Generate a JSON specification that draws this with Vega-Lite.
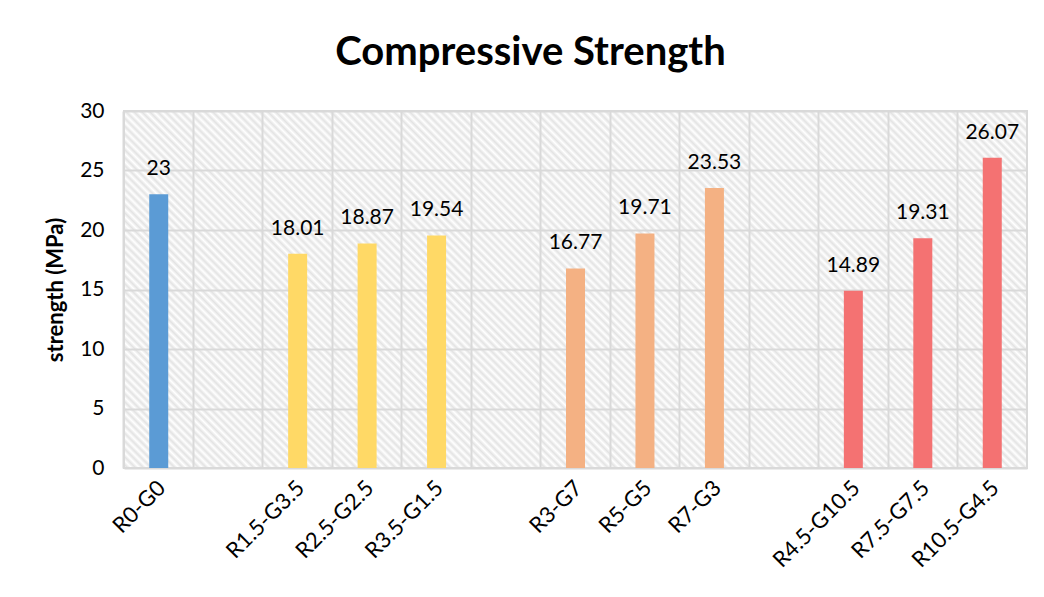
{
  "$schema": "https://vega.github.io/schema/vega-lite/v6.json",
  "autosize": "none",
  "width": 903,
  "height": 357,
  "padding": {"left": 124, "top": 111, "right": 17, "bottom": 129},
  "background": "#ffffff",
  "title": {
    "text": "Compressive Strength",
    "font": "Lato",
    "fontSize": 40,
    "fontWeight": "bold",
    "color": "#000000",
    "anchor": "middle",
    "dx": -45,
    "offset": 27
  },
  "data": {
    "values": [
      {"mix": "R0-G0", "strength": 23, "series": "control"},
      {"mix": "R1.5-G3.5", "strength": 18.01, "series": "total 5"},
      {"mix": "R2.5-G2.5", "strength": 18.87, "series": "total 5"},
      {"mix": "R3.5-G1.5", "strength": 19.54, "series": "total 5"},
      {"mix": "R3-G7", "strength": 16.77, "series": "total 10"},
      {"mix": "R5-G5", "strength": 19.71, "series": "total 10"},
      {"mix": "R7-G3", "strength": 23.53, "series": "total 10"},
      {"mix": "R4.5-G10.5", "strength": 14.89, "series": "total 15"},
      {"mix": "R7.5-G7.5", "strength": 19.31, "series": "total 15"},
      {"mix": "R10.5-G4.5", "strength": 26.07, "series": "total 15"}
    ]
  },
  "encoding": {
    "x": {
      "field": "mix",
      "type": "nominal",
      "sort": null,
      "scale": {
        "domain": ["R0-G0", " ", "R1.5-G3.5", "R2.5-G2.5", "R3.5-G1.5", "  ", "R3-G7", "R5-G5", "R7-G3", "   ", "R4.5-G10.5", "R7.5-G7.5", "R10.5-G4.5"],
        "paddingInner": 0,
        "paddingOuter": 0
      },
      "axis": {
        "title": null,
        "labelAngle": -45,
        "labelFont": "Lato",
        "labelFontSize": 22,
        "labelColor": "#000000",
        "labelPadding": 9,
        "labelOffset": -4,
        "ticks": false,
        "domain": false,
        "grid": true,
        "bandPosition": 0,
        "gridColor": "#d9d9d9",
        "gridWidth": 2
      }
    },
    "y": {
      "field": "strength",
      "type": "quantitative",
      "scale": {"domain": [0, 30], "nice": false},
      "axis": {
        "title": "strength (MPa)",
        "titleFont": "Lato",
        "titleFontSize": 22,
        "titleFontWeight": "bold",
        "titleColor": "#000000",
        "titlePadding": 12,
        "values": [0, 5, 10, 15, 20, 25, 30],
        "labelFont": "Lato",
        "labelFontSize": 21,
        "labelColor": "#000000",
        "labelPadding": 20,
        "ticks": false,
        "domain": false,
        "gridColor": "#d9d9d9",
        "gridWidth": 2
      }
    }
  },
  "layer": [
    {
      "mark": {"type": "bar", "size": 19},
      "encoding": {
        "color": {
          "field": "series",
          "type": "nominal",
          "scale": {
            "domain": ["control", "total 5", "total 10", "total 15"],
            "range": ["#5b9bd5", "#ffd966", "#f4b183", "#f47272"]
          },
          "legend": null
        }
      }
    },
    {
      "mark": {"type": "text", "font": "Lato", "fontSize": 21, "color": "#000000", "baseline": "middle", "dy": -25},
      "encoding": {
        "text": {"field": "strength", "type": "quantitative"}
      }
    }
  ],
  "config": {
    "view": {
      "stroke": "#d9d9d9",
      "strokeWidth": 2,
      "fill": {
        "gradient": "linear",
        "x1": 0, "y1": 1, "x2": 1.20674, "y2": 0.52292,
        "stops": [
          {"offset": 0, "color": "#fff"}, {"offset": 0.003125, "color": "#e3e3e3"}, {"offset": 0.00625, "color": "#fff"}, {"offset": 0.009375, "color": "#e3e3e3"}, {"offset": 0.0125, "color": "#fff"}, {"offset": 0.015625, "color": "#e3e3e3"}, {"offset": 0.01875, "color": "#fff"}, {"offset": 0.021875, "color": "#e3e3e3"},
          {"offset": 0.025, "color": "#fff"}, {"offset": 0.028125, "color": "#e3e3e3"}, {"offset": 0.03125, "color": "#fff"}, {"offset": 0.034375, "color": "#e3e3e3"}, {"offset": 0.0375, "color": "#fff"}, {"offset": 0.040625, "color": "#e3e3e3"}, {"offset": 0.04375, "color": "#fff"}, {"offset": 0.046875, "color": "#e3e3e3"},
          {"offset": 0.05, "color": "#fff"}, {"offset": 0.053125, "color": "#e3e3e3"}, {"offset": 0.05625, "color": "#fff"}, {"offset": 0.059375, "color": "#e3e3e3"}, {"offset": 0.0625, "color": "#fff"}, {"offset": 0.065625, "color": "#e3e3e3"}, {"offset": 0.06875, "color": "#fff"}, {"offset": 0.071875, "color": "#e3e3e3"},
          {"offset": 0.075, "color": "#fff"}, {"offset": 0.078125, "color": "#e3e3e3"}, {"offset": 0.08125, "color": "#fff"}, {"offset": 0.084375, "color": "#e3e3e3"}, {"offset": 0.0875, "color": "#fff"}, {"offset": 0.090625, "color": "#e3e3e3"}, {"offset": 0.09375, "color": "#fff"}, {"offset": 0.096875, "color": "#e3e3e3"},
          {"offset": 0.1, "color": "#fff"}, {"offset": 0.103125, "color": "#e3e3e3"}, {"offset": 0.10625, "color": "#fff"}, {"offset": 0.109375, "color": "#e3e3e3"}, {"offset": 0.1125, "color": "#fff"}, {"offset": 0.115625, "color": "#e3e3e3"}, {"offset": 0.11875, "color": "#fff"}, {"offset": 0.121875, "color": "#e3e3e3"},
          {"offset": 0.125, "color": "#fff"}, {"offset": 0.128125, "color": "#e3e3e3"}, {"offset": 0.13125, "color": "#fff"}, {"offset": 0.134375, "color": "#e3e3e3"}, {"offset": 0.1375, "color": "#fff"}, {"offset": 0.140625, "color": "#e3e3e3"}, {"offset": 0.14375, "color": "#fff"}, {"offset": 0.146875, "color": "#e3e3e3"},
          {"offset": 0.15, "color": "#fff"}, {"offset": 0.153125, "color": "#e3e3e3"}, {"offset": 0.15625, "color": "#fff"}, {"offset": 0.159375, "color": "#e3e3e3"}, {"offset": 0.1625, "color": "#fff"}, {"offset": 0.165625, "color": "#e3e3e3"}, {"offset": 0.16875, "color": "#fff"}, {"offset": 0.171875, "color": "#e3e3e3"},
          {"offset": 0.175, "color": "#fff"}, {"offset": 0.178125, "color": "#e3e3e3"}, {"offset": 0.18125, "color": "#fff"}, {"offset": 0.184375, "color": "#e3e3e3"}, {"offset": 0.1875, "color": "#fff"}, {"offset": 0.190625, "color": "#e3e3e3"}, {"offset": 0.19375, "color": "#fff"}, {"offset": 0.196875, "color": "#e3e3e3"},
          {"offset": 0.2, "color": "#fff"}, {"offset": 0.203125, "color": "#e3e3e3"}, {"offset": 0.20625, "color": "#fff"}, {"offset": 0.209375, "color": "#e3e3e3"}, {"offset": 0.2125, "color": "#fff"}, {"offset": 0.215625, "color": "#e3e3e3"}, {"offset": 0.21875, "color": "#fff"}, {"offset": 0.221875, "color": "#e3e3e3"},
          {"offset": 0.225, "color": "#fff"}, {"offset": 0.228125, "color": "#e3e3e3"}, {"offset": 0.23125, "color": "#fff"}, {"offset": 0.234375, "color": "#e3e3e3"}, {"offset": 0.2375, "color": "#fff"}, {"offset": 0.240625, "color": "#e3e3e3"}, {"offset": 0.24375, "color": "#fff"}, {"offset": 0.246875, "color": "#e3e3e3"},
          {"offset": 0.25, "color": "#fff"}, {"offset": 0.253125, "color": "#e3e3e3"}, {"offset": 0.25625, "color": "#fff"}, {"offset": 0.259375, "color": "#e3e3e3"}, {"offset": 0.2625, "color": "#fff"}, {"offset": 0.265625, "color": "#e3e3e3"}, {"offset": 0.26875, "color": "#fff"}, {"offset": 0.271875, "color": "#e3e3e3"},
          {"offset": 0.275, "color": "#fff"}, {"offset": 0.278125, "color": "#e3e3e3"}, {"offset": 0.28125, "color": "#fff"}, {"offset": 0.284375, "color": "#e3e3e3"}, {"offset": 0.2875, "color": "#fff"}, {"offset": 0.290625, "color": "#e3e3e3"}, {"offset": 0.29375, "color": "#fff"}, {"offset": 0.296875, "color": "#e3e3e3"},
          {"offset": 0.3, "color": "#fff"}, {"offset": 0.303125, "color": "#e3e3e3"}, {"offset": 0.30625, "color": "#fff"}, {"offset": 0.309375, "color": "#e3e3e3"}, {"offset": 0.3125, "color": "#fff"}, {"offset": 0.315625, "color": "#e3e3e3"}, {"offset": 0.31875, "color": "#fff"}, {"offset": 0.321875, "color": "#e3e3e3"},
          {"offset": 0.325, "color": "#fff"}, {"offset": 0.328125, "color": "#e3e3e3"}, {"offset": 0.33125, "color": "#fff"}, {"offset": 0.334375, "color": "#e3e3e3"}, {"offset": 0.3375, "color": "#fff"}, {"offset": 0.340625, "color": "#e3e3e3"}, {"offset": 0.34375, "color": "#fff"}, {"offset": 0.346875, "color": "#e3e3e3"},
          {"offset": 0.35, "color": "#fff"}, {"offset": 0.353125, "color": "#e3e3e3"}, {"offset": 0.35625, "color": "#fff"}, {"offset": 0.359375, "color": "#e3e3e3"}, {"offset": 0.3625, "color": "#fff"}, {"offset": 0.365625, "color": "#e3e3e3"}, {"offset": 0.36875, "color": "#fff"}, {"offset": 0.371875, "color": "#e3e3e3"},
          {"offset": 0.375, "color": "#fff"}, {"offset": 0.378125, "color": "#e3e3e3"}, {"offset": 0.38125, "color": "#fff"}, {"offset": 0.384375, "color": "#e3e3e3"}, {"offset": 0.3875, "color": "#fff"}, {"offset": 0.390625, "color": "#e3e3e3"}, {"offset": 0.39375, "color": "#fff"}, {"offset": 0.396875, "color": "#e3e3e3"},
          {"offset": 0.4, "color": "#fff"}, {"offset": 0.403125, "color": "#e3e3e3"}, {"offset": 0.40625, "color": "#fff"}, {"offset": 0.409375, "color": "#e3e3e3"}, {"offset": 0.4125, "color": "#fff"}, {"offset": 0.415625, "color": "#e3e3e3"}, {"offset": 0.41875, "color": "#fff"}, {"offset": 0.421875, "color": "#e3e3e3"},
          {"offset": 0.425, "color": "#fff"}, {"offset": 0.428125, "color": "#e3e3e3"}, {"offset": 0.43125, "color": "#fff"}, {"offset": 0.434375, "color": "#e3e3e3"}, {"offset": 0.4375, "color": "#fff"}, {"offset": 0.440625, "color": "#e3e3e3"}, {"offset": 0.44375, "color": "#fff"}, {"offset": 0.446875, "color": "#e3e3e3"},
          {"offset": 0.45, "color": "#fff"}, {"offset": 0.453125, "color": "#e3e3e3"}, {"offset": 0.45625, "color": "#fff"}, {"offset": 0.459375, "color": "#e3e3e3"}, {"offset": 0.4625, "color": "#fff"}, {"offset": 0.465625, "color": "#e3e3e3"}, {"offset": 0.46875, "color": "#fff"}, {"offset": 0.471875, "color": "#e3e3e3"},
          {"offset": 0.475, "color": "#fff"}, {"offset": 0.478125, "color": "#e3e3e3"}, {"offset": 0.48125, "color": "#fff"}, {"offset": 0.484375, "color": "#e3e3e3"}, {"offset": 0.4875, "color": "#fff"}, {"offset": 0.490625, "color": "#e3e3e3"}, {"offset": 0.49375, "color": "#fff"}, {"offset": 0.496875, "color": "#e3e3e3"},
          {"offset": 0.5, "color": "#fff"}, {"offset": 0.503125, "color": "#e3e3e3"}, {"offset": 0.50625, "color": "#fff"}, {"offset": 0.509375, "color": "#e3e3e3"}, {"offset": 0.5125, "color": "#fff"}, {"offset": 0.515625, "color": "#e3e3e3"}, {"offset": 0.51875, "color": "#fff"}, {"offset": 0.521875, "color": "#e3e3e3"},
          {"offset": 0.525, "color": "#fff"}, {"offset": 0.528125, "color": "#e3e3e3"}, {"offset": 0.53125, "color": "#fff"}, {"offset": 0.534375, "color": "#e3e3e3"}, {"offset": 0.5375, "color": "#fff"}, {"offset": 0.540625, "color": "#e3e3e3"}, {"offset": 0.54375, "color": "#fff"}, {"offset": 0.546875, "color": "#e3e3e3"},
          {"offset": 0.55, "color": "#fff"}, {"offset": 0.553125, "color": "#e3e3e3"}, {"offset": 0.55625, "color": "#fff"}, {"offset": 0.559375, "color": "#e3e3e3"}, {"offset": 0.5625, "color": "#fff"}, {"offset": 0.565625, "color": "#e3e3e3"}, {"offset": 0.56875, "color": "#fff"}, {"offset": 0.571875, "color": "#e3e3e3"},
          {"offset": 0.575, "color": "#fff"}, {"offset": 0.578125, "color": "#e3e3e3"}, {"offset": 0.58125, "color": "#fff"}, {"offset": 0.584375, "color": "#e3e3e3"}, {"offset": 0.5875, "color": "#fff"}, {"offset": 0.590625, "color": "#e3e3e3"}, {"offset": 0.59375, "color": "#fff"}, {"offset": 0.596875, "color": "#e3e3e3"},
          {"offset": 0.6, "color": "#fff"}, {"offset": 0.603125, "color": "#e3e3e3"}, {"offset": 0.60625, "color": "#fff"}, {"offset": 0.609375, "color": "#e3e3e3"}, {"offset": 0.6125, "color": "#fff"}, {"offset": 0.615625, "color": "#e3e3e3"}, {"offset": 0.61875, "color": "#fff"}, {"offset": 0.621875, "color": "#e3e3e3"},
          {"offset": 0.625, "color": "#fff"}, {"offset": 0.628125, "color": "#e3e3e3"}, {"offset": 0.63125, "color": "#fff"}, {"offset": 0.634375, "color": "#e3e3e3"}, {"offset": 0.6375, "color": "#fff"}, {"offset": 0.640625, "color": "#e3e3e3"}, {"offset": 0.64375, "color": "#fff"}, {"offset": 0.646875, "color": "#e3e3e3"},
          {"offset": 0.65, "color": "#fff"}, {"offset": 0.653125, "color": "#e3e3e3"}, {"offset": 0.65625, "color": "#fff"}, {"offset": 0.659375, "color": "#e3e3e3"}, {"offset": 0.6625, "color": "#fff"}, {"offset": 0.665625, "color": "#e3e3e3"}, {"offset": 0.66875, "color": "#fff"}, {"offset": 0.671875, "color": "#e3e3e3"},
          {"offset": 0.675, "color": "#fff"}, {"offset": 0.678125, "color": "#e3e3e3"}, {"offset": 0.68125, "color": "#fff"}, {"offset": 0.684375, "color": "#e3e3e3"}, {"offset": 0.6875, "color": "#fff"}, {"offset": 0.690625, "color": "#e3e3e3"}, {"offset": 0.69375, "color": "#fff"}, {"offset": 0.696875, "color": "#e3e3e3"},
          {"offset": 0.7, "color": "#fff"}, {"offset": 0.703125, "color": "#e3e3e3"}, {"offset": 0.70625, "color": "#fff"}, {"offset": 0.709375, "color": "#e3e3e3"}, {"offset": 0.7125, "color": "#fff"}, {"offset": 0.715625, "color": "#e3e3e3"}, {"offset": 0.71875, "color": "#fff"}, {"offset": 0.721875, "color": "#e3e3e3"},
          {"offset": 0.725, "color": "#fff"}, {"offset": 0.728125, "color": "#e3e3e3"}, {"offset": 0.73125, "color": "#fff"}, {"offset": 0.734375, "color": "#e3e3e3"}, {"offset": 0.7375, "color": "#fff"}, {"offset": 0.740625, "color": "#e3e3e3"}, {"offset": 0.74375, "color": "#fff"}, {"offset": 0.746875, "color": "#e3e3e3"},
          {"offset": 0.75, "color": "#fff"}, {"offset": 0.753125, "color": "#e3e3e3"}, {"offset": 0.75625, "color": "#fff"}, {"offset": 0.759375, "color": "#e3e3e3"}, {"offset": 0.7625, "color": "#fff"}, {"offset": 0.765625, "color": "#e3e3e3"}, {"offset": 0.76875, "color": "#fff"}, {"offset": 0.771875, "color": "#e3e3e3"},
          {"offset": 0.775, "color": "#fff"}, {"offset": 0.778125, "color": "#e3e3e3"}, {"offset": 0.78125, "color": "#fff"}, {"offset": 0.784375, "color": "#e3e3e3"}, {"offset": 0.7875, "color": "#fff"}, {"offset": 0.790625, "color": "#e3e3e3"}, {"offset": 0.79375, "color": "#fff"}, {"offset": 0.796875, "color": "#e3e3e3"},
          {"offset": 0.8, "color": "#fff"}, {"offset": 0.803125, "color": "#e3e3e3"}, {"offset": 0.80625, "color": "#fff"}, {"offset": 0.809375, "color": "#e3e3e3"}, {"offset": 0.8125, "color": "#fff"}, {"offset": 0.815625, "color": "#e3e3e3"}, {"offset": 0.81875, "color": "#fff"}, {"offset": 0.821875, "color": "#e3e3e3"},
          {"offset": 0.825, "color": "#fff"}, {"offset": 0.828125, "color": "#e3e3e3"}, {"offset": 0.83125, "color": "#fff"}, {"offset": 0.834375, "color": "#e3e3e3"}, {"offset": 0.8375, "color": "#fff"}, {"offset": 0.840625, "color": "#e3e3e3"}, {"offset": 0.84375, "color": "#fff"}, {"offset": 0.846875, "color": "#e3e3e3"},
          {"offset": 0.85, "color": "#fff"}, {"offset": 0.853125, "color": "#e3e3e3"}, {"offset": 0.85625, "color": "#fff"}, {"offset": 0.859375, "color": "#e3e3e3"}, {"offset": 0.8625, "color": "#fff"}, {"offset": 0.865625, "color": "#e3e3e3"}, {"offset": 0.86875, "color": "#fff"}, {"offset": 0.871875, "color": "#e3e3e3"},
          {"offset": 0.875, "color": "#fff"}, {"offset": 0.878125, "color": "#e3e3e3"}, {"offset": 0.88125, "color": "#fff"}, {"offset": 0.884375, "color": "#e3e3e3"}, {"offset": 0.8875, "color": "#fff"}, {"offset": 0.890625, "color": "#e3e3e3"}, {"offset": 0.89375, "color": "#fff"}, {"offset": 0.896875, "color": "#e3e3e3"},
          {"offset": 0.9, "color": "#fff"}, {"offset": 0.903125, "color": "#e3e3e3"}, {"offset": 0.90625, "color": "#fff"}, {"offset": 0.909375, "color": "#e3e3e3"}, {"offset": 0.9125, "color": "#fff"}, {"offset": 0.915625, "color": "#e3e3e3"}, {"offset": 0.91875, "color": "#fff"}, {"offset": 0.921875, "color": "#e3e3e3"},
          {"offset": 0.925, "color": "#fff"}, {"offset": 0.928125, "color": "#e3e3e3"}, {"offset": 0.93125, "color": "#fff"}, {"offset": 0.934375, "color": "#e3e3e3"}, {"offset": 0.9375, "color": "#fff"}, {"offset": 0.940625, "color": "#e3e3e3"}, {"offset": 0.94375, "color": "#fff"}, {"offset": 0.946875, "color": "#e3e3e3"},
          {"offset": 0.95, "color": "#fff"}, {"offset": 0.953125, "color": "#e3e3e3"}, {"offset": 0.95625, "color": "#fff"}, {"offset": 0.959375, "color": "#e3e3e3"}, {"offset": 0.9625, "color": "#fff"}, {"offset": 0.965625, "color": "#e3e3e3"}, {"offset": 0.96875, "color": "#fff"}, {"offset": 0.971875, "color": "#e3e3e3"},
          {"offset": 0.975, "color": "#fff"}, {"offset": 0.978125, "color": "#e3e3e3"}, {"offset": 0.98125, "color": "#fff"}, {"offset": 0.984375, "color": "#e3e3e3"}, {"offset": 0.9875, "color": "#fff"}, {"offset": 0.990625, "color": "#e3e3e3"}, {"offset": 0.99375, "color": "#fff"}, {"offset": 0.996875, "color": "#e3e3e3"},
          {"offset": 1, "color": "#fff"}
        ]
      }
    }
  }
}
